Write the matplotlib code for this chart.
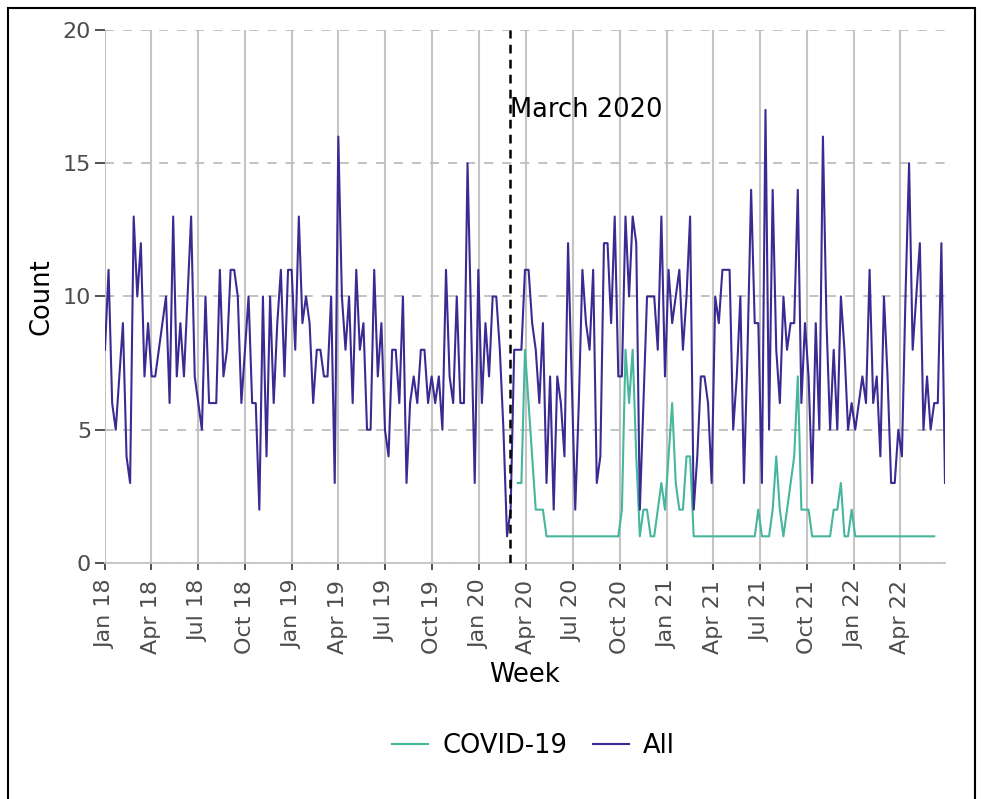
import matplotlib
matplotlib.use('Agg')
import matplotlib.pyplot as plt
import matplotlib.dates as mdates
from matplotlib.patches import Rectangle
import pandas as pd

# weekly counts, first week starts 2018-01-01
all_counts = [8, 11, 6, 5, 7, 9, 4, 3, 13, 10,
              12, 7, 9, 7, 7, 8, 9, 10, 6, 13,
              7, 9, 7, 10, 13, 7, 6, 5, 10, 6,
              6, 6, 11, 7, 8, 11, 11, 10, 6, 8,
              10, 6, 6, 2, 10, 4, 10, 6, 9, 11,
              7, 11, 11, 8, 13, 9, 10, 9, 6, 8,
              8, 7, 7, 10, 3, 16, 10, 8, 10, 6,
              11, 8, 9, 5, 5, 11, 7, 9, 5, 4,
              8, 8, 6, 10, 3, 6, 7, 6, 8, 8,
              6, 7, 6, 7, 5, 11, 7, 6, 10, 6,
              6, 15, 9, 3, 11, 6, 9, 7, 10, 10,
              8, 5, 1, 2, 8, 8, 8, 11, 11, 9,
              8, 6, 9, 3, 7, 2, 7, 6, 4, 12,
              7, 2, 6, 11, 9, 8, 11, 3, 4, 12,
              12, 9, 13, 7, 7, 13, 10, 13, 12, 2,
              6, 10, 10, 10, 8, 13, 7, 11, 9, 10,
              11, 8, 10, 13, 2, 4, 7, 7, 6, 3,
              10, 9, 11, 11, 11, 5, 7, 10, 3, 8,
              14, 9, 9, 3, 17, 5, 14, 8, 6, 10,
              8, 9, 9, 14, 6, 9, 7, 3, 9, 5,
              16, 9, 5, 8, 5, 10, 8, 5, 6, 5,
              6, 7, 6, 11, 6, 7, 4, 10, 7, 3,
              3, 5, 4, 10, 15, 8, 10, 12, 5, 7,
              5, 6, 6, 12, 3]

# COVID-19 weekly counts, first week starts 2020-03-16
covid_counts = [3, 3, 8, 6, 4, 2, 2, 2,
                1, 1, 1, 1, 1, 1, 1, 1, 1, 1, 1, 1, 1, 1, 1, 1, 1, 1, 1, 1, 1,
                2, 8, 6, 8, 4, 1, 2, 2, 1, 1, 2, 3, 2, 4, 6, 3, 2, 2, 4, 4,
                1, 1, 1, 1, 1, 1, 1, 1, 1, 1, 1, 1, 1, 1, 1, 1, 1, 1,
                2, 1, 1, 1, 2, 4, 2, 1, 2, 3, 4, 7, 2, 2, 2, 1, 1, 1, 1, 1,
                1, 2, 2, 3, 1, 1, 2,
                1, 1, 1, 1, 1, 1, 1, 1, 1, 1, 1, 1, 1, 1, 1, 1, 1, 1, 1, 1,
                1, 1, 1]

weeks = pd.date_range('2018-01-01', periods=len(all_counts), freq='7D')
covid_weeks = pd.date_range('2020-03-16', periods=len(covid_counts), freq='7D')
march_2020 = pd.Timestamp('2020-03-01')
tick_dates = pd.date_range('2018-01-01', '2022-04-01', freq='QS')

col_all = '#3a2b92'
col_covid = '#46b69c'

fig = plt.figure(figsize=(9.82, 7.99), dpi=100)
ax = fig.add_axes([0.1069, 0.2954, 0.8554, 0.6671])

ax.plot(covid_weeks, covid_counts, color=col_covid, lw=1.5, label='COVID-19', zorder=3)
ax.plot(weeks, all_counts, color=col_all, lw=1.5, label='All', zorder=4)

ax.axvline(march_2020, color='black', lw=1.8, ls=(0, (3.5, 2.5)), zorder=5)
ax.text(march_2020, 17, 'March 2020', ha='left', va='center', fontsize=18.5, color='black')

ax.set_xlim(weeks[0], weeks[-1])
ax.set_ylim(0, 20)
ax.set_yticks([0, 5, 10, 15, 20])
ax.set_xticks(tick_dates)
ax.xaxis.set_major_formatter(mdates.DateFormatter('%b %y'))
ax.tick_params(axis='x', rotation=90, labelsize=16, length=5, width=1.2, pad=7)
ax.tick_params(axis='y', labelsize=16, length=7, width=1.2, pad=3)
for t in ax.get_xticklabels() + ax.get_yticklabels():
    t.set_color('#4d4d4d')
ax.tick_params(axis='both', color='#333333')

ax.grid(axis='x', color='#c4c4c4', lw=1.5, ls='-')
ax.grid(axis='y', color='#bdbdbd', lw=1.3, ls=(0, (5, 5)))
ax.set_axisbelow(True)

for side in ['top', 'right', 'left']:
    ax.spines[side].set_visible(False)
ax.spines['bottom'].set_color('#c4c4c4')
ax.spines['bottom'].set_linewidth(1.3)

ax.set_xlabel('Week', fontsize=18.5, labelpad=6)
ax.set_ylabel('Count', fontsize=18.5, labelpad=6)

fig.legend(loc='center', bbox_to_anchor=(0.543, 0.066), ncol=2, frameon=False,
           fontsize=18.5, handlelength=1.4, columnspacing=1.0, handletextpad=0.55)

# outer frame
fig.patches.append(Rectangle((8 / 982, -0.01), 967 / 982, 1 - 8 / 799 + 0.01,
                             transform=fig.transFigure, fill=False,
                             edgecolor='black', lw=1.5))

fig.savefig('out.png', dpi=100)
